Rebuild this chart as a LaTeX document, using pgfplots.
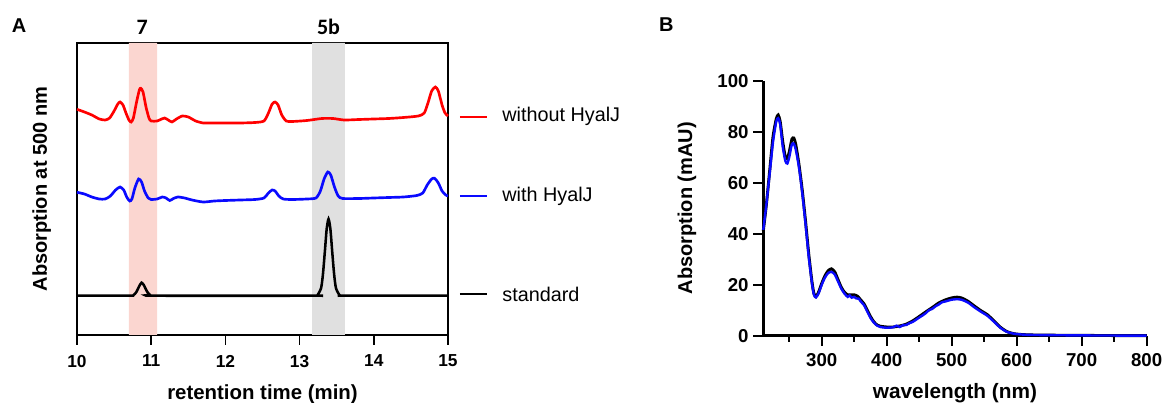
\documentclass[border=0pt]{standalone}
\usepackage{fontspec}
\setmainfont{Liberation Sans}
\newfontfamily\calib{Carlito}
\usepackage{pgfplots}
\pgfplotsset{compat=1.18}
\definecolor{traceRed}{RGB}{255,0,0}
\definecolor{traceBlue}{RGB}{10,10,255}
\definecolor{bandPink}{RGB}{251,214,208}
\definecolor{bandGray}{RGB}{224,224,224}

\begin{document}
\begin{tikzpicture}
\useasboundingbox (-57.75pt,-51pt) rectangle (817.5pt,251.25pt);

% ---------------- panel A: chromatograms ----------------
\begin{axis}[
  at={(0pt,0pt)}, anchor=south west,
  scale only axis, width=278.25pt, height=219pt,
  xmin=10, xmax=15, ymin=0, ymax=292,
  xtick={10,11,12,13,14,15}, ytick=\empty,
  xtick pos=bottom, tick align=outside,
  major tick length=7.5pt,
  tick style={line width=1.1pt, black},
  axis line style={line width=1.1pt},
  ticklabel style={font=\fontsize{13}{14}\selectfont\bfseries},
  xticklabel style={yshift=-4pt},
  /pgf/number format/assume math mode=true,
  xlabel={\fontsize{15.3}{18}\selectfont\bfseries retention time (min)},
  ylabel={\fontsize{15}{18}\selectfont\bfseries Absorption at 500 nm},
  ylabel style={at={(axis description cs:0,0.5)}, anchor=south, yshift=16pt},
  xlabel style={yshift=-6pt},
  clip=false,
]
% highlighted bands
\addplot [fill=bandPink, draw=none] coordinates {(10.70,0)(11.08,0)(11.08,292)(10.70,292)} \closedcycle;
\addplot [fill=bandGray, draw=none] coordinates {(13.17,0)(13.61,0)(13.61,292)(13.17,292)} \closedcycle;

% standard
\addplot [black, line width=1.9pt, smooth, tension=0.4] coordinates {
(10.00,39.3)(10.70,39.3)(10.76,39.8)(10.80,43)(10.84,49)(10.87,52.3)(10.90,50)(10.94,44)(10.98,40.3)(11.04,39.3)
(13.20,39.3)(13.24,39.8)(13.29,47)(13.315,61)(13.34,83)(13.365,106)(13.39,116)(13.415,106)(13.44,83)
(13.465,61)(13.49,47)(13.54,39.8)(13.60,39.3)(15.00,39.3)
};

% with HyalJ
\addplot [traceBlue, line width=2pt, smooth, tension=0.4] coordinates {
(10.00,142.7)(10.10,141)(10.20,138)(10.30,136)(10.38,136)(10.45,139)(10.52,145)(10.58,148)(10.63,145)
(10.67,138)(10.71,134)(10.74,136)(10.78,147)(10.83,156)(10.87,153)(10.91,144)(10.96,137)(11.00,135.5)
(11.08,136)(11.15,138)(11.20,137)(11.25,134.5)(11.30,136.5)(11.36,138)(11.45,137)(11.55,135)(11.70,133)
(11.85,134)(12.00,134.5)(12.20,135)(12.40,135.5)(12.52,137)(12.58,142)(12.63,145)(12.67,144)(12.72,139)
(12.78,136)(12.90,135.5)(13.10,136)(13.22,137)(13.28,144)(13.33,156)(13.38,163)(13.42,160)(13.47,148)
(13.52,139)(13.58,136.5)(13.80,136.5)(14.00,137)(14.20,137.5)(14.40,138)(14.58,139.5)(14.66,142)
(14.72,150)(14.78,156)(14.82,156.7)(14.87,152)(14.92,144)(14.97,140)(15.00,139)
};

% without HyalJ
\addplot [traceRed, line width=2pt, smooth, tension=0.4] coordinates {
(10.00,225.7)(10.10,223)(10.20,220)(10.30,216)(10.38,215)(10.44,217)(10.50,224)(10.55,231)(10.58,233)
(10.62,230)(10.66,222)(10.70,215)(10.73,213)(10.76,217)(10.80,232)(10.84,245)(10.86,246.7)(10.89,243)
(10.93,228)(10.97,217)(11.00,214)(11.08,214)(11.14,216)(11.18,217)(11.23,215)(11.28,213)(11.34,216)
(11.42,219)(11.50,218)(11.60,214)(11.70,212)(11.80,212)(12.00,212)(12.20,212)(12.40,212.5)(12.52,214)
(12.58,222)(12.63,231)(12.67,233)(12.71,230)(12.76,220)(12.82,214)(12.90,213.5)(13.10,214.5)(13.30,216.5)
(13.45,216.5)(13.60,215)(13.80,215.5)(14.00,216)(14.20,216.5)(14.40,217.5)(14.60,219)(14.68,222)
(14.73,232)(14.78,244)(14.83,248)(14.87,244)(14.92,230)(14.96,222)(15.00,219)
};

% legend beside the traces
\draw [traceRed, line width=1.5pt] (axis cs:15.16,218.3) -- (axis cs:15.53,218.3);
\draw [traceBlue, line width=1.5pt] (axis cs:15.16,139) -- (axis cs:15.53,139);
\draw [black, line width=1.5pt] (axis cs:15.16,41) -- (axis cs:15.53,41);
\node [anchor=west, font=\fontsize{14.85}{17}\selectfont, inner sep=0pt] at (axis cs:15.73,218.3) {without HyalJ};
\node [anchor=west, font=\fontsize{14.85}{17}\selectfont, inner sep=0pt] at (axis cs:15.73,139) {with HyalJ};
\node [anchor=west, font=\fontsize{14.85}{17}\selectfont, inner sep=0pt] at (axis cs:15.73,41) {standard};

% peak labels
\node [font=\calib\fontsize{16.5}{18}\selectfont\bfseries] at (axis cs:10.88,308) {7};
\node [font=\calib\fontsize{16.5}{18}\selectfont\bfseries] at (axis cs:13.39,308) {5b};
\end{axis}

\node [font=\fontsize{15}{16}\selectfont\bfseries] at (-43.5pt,232pt) {A};
\node [font=\fontsize{15}{16}\selectfont\bfseries] at (442pt,233pt) {B};

% ---------------- panel B: spectra ----------------
\begin{axis}[
  at={(514.7pt,-0.5pt)}, anchor=south west,
  scale only axis, width=287.5pt, height=191.25pt,
  xmin=210, xmax=800, ymin=0, ymax=100,
  axis lines=left, axis line style={-, line width=2pt},
  xtick={300,400,500,600,700,800},
  minor xtick={250,350,450,550,650,750},
  ytick={0,20,40,60,80,100},
  tick align=outside,
  major tick length=7.5pt, minor tick length=4.5pt,
  tick style={line width=1.6pt, black},
  ticklabel style={font=\fontsize{14}{16}\selectfont\bfseries},
  xticklabel style={yshift=-2pt},
  /pgf/number format/assume math mode=true,
  xlabel={\fontsize{15.6}{18}\selectfont\bfseries wavelength (nm)},
  xlabel style={yshift=-6pt},
  ylabel={\fontsize{15}{18}\selectfont\bfseries Absorption (mAU)},
  ylabel style={xshift=0pt, yshift=9pt},
  clip=false,
]
\addplot [black, line width=2.2pt, smooth, tension=0.4] coordinates {
(210,41)(215,52)(220,65)(225,78)(230,85)(233,86.5)(236,84)(240,76)(244,70)(247,69.5)(250,72)(254,77)
(257,77.5)(260,75)(265,67)(270,57)(275,45)(280,32)(285,21)(288,16.5)(291,15.3)(295,17)(300,20.5)
(305,23.5)(310,25.5)(315,26.2)(320,25)(325,22)(330,19)(335,17)(340,16)(345,16)(350,16)(355,15.5)
(360,14)(365,12.5)(370,10)(375,7.5)(380,5.5)(385,4.2)(390,3.7)(400,3.4)(410,3.4)(420,3.8)(430,4.5)
(440,5.8)(450,7.5)(460,9.3)(470,11)(480,12.8)(490,14)(500,14.8)(508,15.1)(515,14.8)(525,13.5)
(535,11.6)(545,9.8)(555,8.2)(565,5.8)(575,3.3)(585,1.6)(595,0.8)(605,0.5)(620,0.3)(650,0.2)
(700,0.1)(800,0)
};
\addplot [traceBlue, line width=1.8pt, smooth, tension=0.4] coordinates {
(210,41.5)(215,52)(220,64)(225,76)(230,84)(233,85.3)(236,83)(240,74)(244,68.5)(247,67.5)(250,70)(254,75)
(257,75.3)(260,73)(265,66)(270,56)(275,44)(280,31)(285,20.5)(288,16)(291,15)(295,16.5)(300,20)
(305,22.8)(310,24.6)(315,25)(320,24)(325,21.3)(330,18.5)(335,16.5)(340,15.2)(343,15.8)(346,14.9)
(350,15.2)(353,14.6)(357,14.5)(360,13.4)(365,12)(370,9.5)(375,7)(380,5.2)(385,4)(390,3.4)(400,3.1)
(410,3.3)(415,3.9)(420,3.4)(425,4.1)(430,4.2)(435,4.9)(440,5.4)(450,7.1)(455,7.9)(460,8.8)(465,10)
(470,10.5)(475,11.5)(480,12.2)(485,13.1)(490,13.4)(500,14.1)(508,14.3)(515,14.1)(525,13)
(535,11.1)(545,9.4)(555,7.8)(565,5.5)(575,3.1)(585,1.5)(595,0.8)(605,0.5)(620,0.3)(650,0.2)
(700,0.1)(800,0)
};
\end{axis}
\end{tikzpicture}
\end{document}
